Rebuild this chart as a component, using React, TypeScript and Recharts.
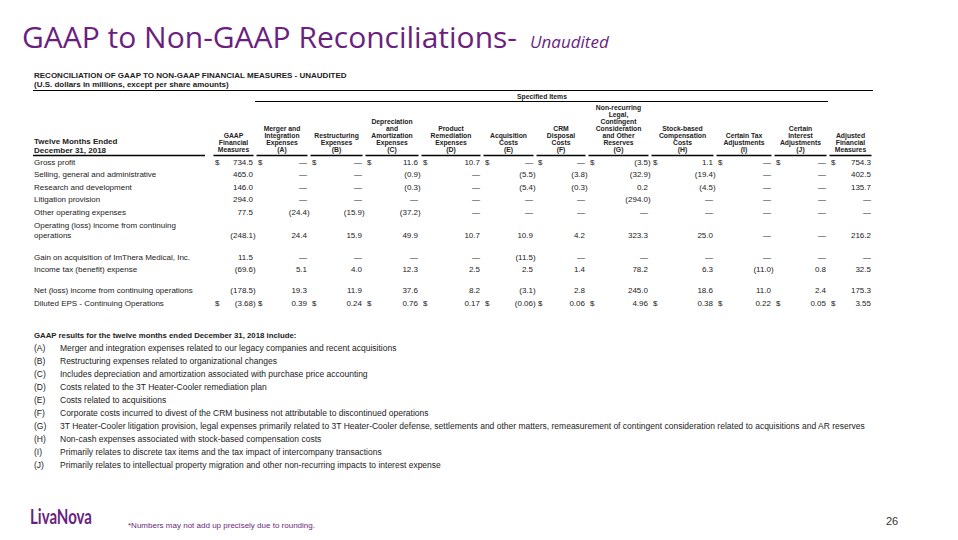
import React from "react"
import { Scatter, ScatterChart, XAxis, YAxis } from "recharts"

// ---- data ----
const rowLabels = [
	"Gross profit",
	"Selling, general and administrative",
	"Research and development",
	"Litigation provision",
	"Other operating expenses",
	"Operating (loss) income from continuing\noperations",
	"Gain on acquisition of ImThera Medical, Inc.",
	"Income tax (benefit) expense",
	"Net (loss) income from continuing operations",
	"Diluted EPS - Continuing Operations",
]

const columnHeaders = [
	["GAAP", "Financial", "Measures"],
	["Merger and", "Integration", "Expenses", "(A)"],
	["Restructuring", "Expenses", "(B)"],
	["Depreciation", "and", "Amortization", "Expenses", "(C)"],
	["Product", "Remediation", "Expenses", "(D)"],
	["Acquisition", "Costs", "(E)"],
	["CRM", "Disposal", "Costs", "(F)"],
	["Non-recurring", "Legal,", "Contingent", "Consideration", "and Other", "Reserves", "(G)"],
	["Stock-based", "Compensation", "Costs", "(H)"],
	["Certain Tax", "Adjustments", "(I)"],
	["Certain", "Interest", "Adjustments", "(J)"],
	["Adjusted", "Financial", "Measures"],
]

// null = "—"
const gaapMeasures = [734.5, 465.0, 146.0, 294.0, 77.5, -248.1, 11.5, -69.6, -178.5, -3.68]
const mergerIntegration = [null, null, null, null, -24.4, 24.4, null, 5.1, 19.3, 0.39]
const restructuring = [null, null, null, null, -15.9, 15.9, null, 4.0, 11.9, 0.24]
const depreciationAmortization = [11.6, -0.9, -0.3, null, -37.2, 49.9, null, 12.3, 37.6, 0.76]
const productRemediation = [10.7, null, null, null, null, 10.7, null, 2.5, 8.2, 0.17]
const acquisitionCosts = [null, -5.5, -5.4, null, null, 10.9, -11.5, 2.5, -3.1, -0.06]
const crmDisposal = [null, -3.8, -0.3, null, null, 4.2, null, 1.4, 2.8, 0.06]
const nonRecurringLegal = [-3.5, -32.9, 0.2, -294.0, null, 323.3, null, 78.2, 245.0, 4.96]
const stockCompensation = [1.1, -19.4, -4.5, null, null, 25.0, null, 6.3, 18.6, 0.38]
const certainTax = [null, null, null, null, null, null, null, -11.0, 11.0, 0.22]
const certainInterest = [null, null, null, null, null, null, null, 0.8, 2.4, 0.05]
const adjustedMeasures = [754.3, 402.5, 135.7, null, null, 216.2, null, 32.5, 175.3, 3.55]

const series = [
	gaapMeasures, mergerIntegration, restructuring, depreciationAmortization,
	productRemediation, acquisitionCosts, crmDisposal, nonRecurringLegal,
	stockCompensation, certainTax, certainInterest, adjustedMeasures,
]

const dollarRows = [0, 9] // rows showing "$"
const epsRow = 9

const footnoteKeys = ["(A)", "(B)", "(C)", "(D)", "(E)", "(F)", "(G)", "(H)", "(I)", "(J)"]
const footnoteTexts = [
	"Merger and integration expenses related to our legacy companies and recent acquisitions",
	"Restructuring expenses related to organizational changes",
	"Includes depreciation and amortization associated with purchase price accounting",
	"Costs related to the 3T Heater-Cooler remediation plan",
	"Costs related to acquisitions",
	"Corporate costs incurred to divest of the CRM business not attributable to discontinued operations",
	"3T Heater-Cooler litigation provision, legal expenses primarily related to 3T Heater-Cooler defense, settlements and other matters, remeasurement of contingent consideration related to acquisitions and AR reserves",
	"Non-cash expenses associated with stock-based compensation costs",
	"Primarily relates to discrete tax items and the tax impact of intercompany transactions",
	"Primarily relates to intellectual property migration and other non-recurring impacts to interest expense",
]

// ---- layout (table geometry, not data) ----
const COL_WIDTHS = [43, 54, 55, 56, 62, 53, 52, 63, 65, 58, 55, 45]
const ROW_SLOTS = [0.55, 1.55, 2.55, 3.55, 4.55, 6.45, 8.15, 9.15, 10.85, 11.85]
const Y_MAX = 12.56

const PURPLE = "#6b1f7e"
const TXT = "#222"
const TABLE_FONT = "'Liberation Sans', Arial, sans-serif"
const FS = 8

const rootStyle: React.CSSProperties = {
	position: "absolute", left: 0, top: 0, width: 958, height: 540,
	background: "#fff", overflow: "hidden",
}
const overlayStyle: React.CSSProperties = { position: "absolute", left: 0, top: 0, pointerEvents: "none" }
const chartMargin = { top: 0, right: 85, bottom: 18, left: 0 }

const colLeft = COL_WIDTHS.map((_, i) => COL_WIDTHS.slice(0, i).reduce((a, b) => a + b, 0))
const colRight = colLeft.map((l, i) => l + COL_WIDTHS[i])
const colCenter = colLeft.map((l, i) => l + COL_WIDTHS[i] / 2)
const X_MAX = colRight[colRight.length - 1]

const fmt = (v: number | null, r: number) => {
	if (v === null) return "—"
	const s = Math.abs(v).toFixed(r === epsRow ? 2 : 1)
	return v < 0 ? `(${s})` : s
}

function CellText(props: any) {
	const { cx, cy, payload } = props
	const neg = payload.v !== null && payload.v < 0
	return (
		<text
			x={cx - 2 + (neg ? 2.7 : 0)}
			y={cy}
			dy="0.35em"
			textAnchor="end"
			fontSize={FS}
			fill={TXT}
			fontFamily={TABLE_FONT}
		>
			{fmt(payload.v, payload.r)}
		</text>
	)
}

function DollarText(props: any) {
	const { cx, cy } = props
	return (
		<text x={cx + 3} y={cy} dy="0.35em" fontSize={FS} fill={TXT} fontFamily={TABLE_FONT}>
			$
		</text>
	)
}

function HeaderTick(props: any) {
	const { x, y, index } = props
	const lines = columnHeaders[index] || []
	const w = COL_WIDTHS[index]
	const lh = 7
	return (
		<g>
			{lines.map((ln, i) => (
				<text
					key={i}
					x={x}
					y={y - 3 - (lines.length - 1 - i) * lh}
					textAnchor="middle"
					fontSize={6.8}
					fontWeight="bold"
					fill={TXT}
					fontFamily={TABLE_FONT}
				>
					{ln}
				</text>
			))}
			<line x1={x - w / 2 + 1.5} x2={x + w / 2 - 1.5} y1={y + 0.5} y2={y + 0.5} stroke="#000" strokeWidth={1.3} />
		</g>
	)
}

function RowTick(props: any) {
	const { y, index } = props
	const lines = (rowLabels[index] || "").split("\n")
	return (
		<g>
			{lines.map((ln, i) => (
				<text
					key={i}
					x={34}
					y={y - (lines.length - 1 - i) * 10.5}
					dy="0.35em"
					fontSize={FS}
					fill={TXT}
					fontFamily={TABLE_FONT}
				>
					{ln}
				</text>
			))}
		</g>
	)
}

export default function App() {
	const cellSeries = series.map((vals, c) =>
		vals.map((v, r) => ({ x: colRight[c], y: ROW_SLOTS[r], v, r })),
	)
	const dollarData = colLeft.flatMap((l) => dollarRows.map((r) => ({ x: l, y: ROW_SLOTS[r] })))

	return (
		<div style={rootStyle}>
			<ScatterChart width={958} height={330} margin={chartMargin}>
				<XAxis
					xAxisId="x"
					dataKey="x"
					type="number"
					orientation="top"
					domain={[0, X_MAX]}
					ticks={colCenter}
					interval={0}
					height={155}
					axisLine={false}
					tickLine={false}
					tickSize={0}
					tickMargin={0}
					tick={<HeaderTick />}
				/>
				<YAxis
					yAxisId="y"
					dataKey="y"
					type="number"
					domain={[0, Y_MAX]}
					reversed
					ticks={ROW_SLOTS}
					interval={0}
					width={212}
					axisLine={false}
					tickLine={false}
					tick={<RowTick />}
				/>
				{cellSeries.map((d, c) => (
					<Scatter
						key={c}
						xAxisId="x"
						yAxisId="y"
						data={d}
						shape={(p: any) => <CellText {...p} />}
						isAnimationActive={false}
					/>
				))}
				<Scatter
					xAxisId="x"
					yAxisId="y"
					data={dollarData}
					shape={(p: any) => <DollarText {...p} />}
					isAnimationActive={false}
				/>
			</ScatterChart>

			<svg width={958} height={540} style={overlayStyle}>
				<text x={22} y={48} fontSize={30} fill={PURPLE} fontFamily="'Open Sans', sans-serif">
					GAAP to Non-GAAP Reconciliations-
				</text>
				<text x={530} y={48} fontSize={17} fontStyle="italic" fill={PURPLE} fontFamily="'Open Sans', sans-serif">
					Unaudited
				</text>

				<g fontFamily={TABLE_FONT} fill={TXT} fontWeight="bold">
					<text x={34} y={78} fontSize={8}>RECONCILIATION OF GAAP TO NON-GAAP FINANCIAL MEASURES - UNAUDITED</text>
					<text x={34} y={87} fontSize={8}>(U.S. dollars in millions, except per share amounts)</text>
					<text x={542} y={98.5} fontSize={6.8} textAnchor="middle">Specified Items</text>
					<text x={34} y={144} fontSize={8}>Twelve Months Ended</text>
					<text x={34} y={153} fontSize={8}>December 31, 2018</text>
				</g>
				<line x1={33} x2={873} y1={90.5} y2={90.5} stroke="#000" strokeWidth={1.2} />
				<line x1={255} x2={828} y1={101.5} y2={101.5} stroke="#000" strokeWidth={1.2} />
				<line x1={33} x2={205} y1={155.5} y2={155.5} stroke="#000" strokeWidth={1.3} />

				<g fontFamily={TABLE_FONT} fill={TXT} fontSize={8.5}>
					<text x={34} y={338} fontWeight="bold" fontSize={7.8}>GAAP results for the twelve months ended December 31, 2018 include:</text>
					{footnoteKeys.map((k, i) => (
						<g key={k}>
							<text x={34} y={351 + i * 13}>{k}</text>
							<text x={60} y={351 + i * 13}>{footnoteTexts[i]}</text>
						</g>
					))}
				</g>

				<text x={30} y={524} fontSize={20} fontWeight="bold" fill={PURPLE} fontFamily="Lato, sans-serif" textLength={62} lengthAdjust="spacingAndGlyphs">
					LivaNova
				</text>
				<text x={128} y={528} fontSize={8} fill={PURPLE} fontFamily="'Liberation Sans Narrow', 'Liberation Sans', sans-serif" textLength={187} lengthAdjust="spacingAndGlyphs">
					*Numbers may not add up precisely due to rounding.
				</text>
				<text x={886} y={525} fontSize={11} fill="#333" fontFamily="'Liberation Sans Narrow', 'Liberation Sans', sans-serif">
					26
				</text>
			</svg>
		</div>
	)
}
